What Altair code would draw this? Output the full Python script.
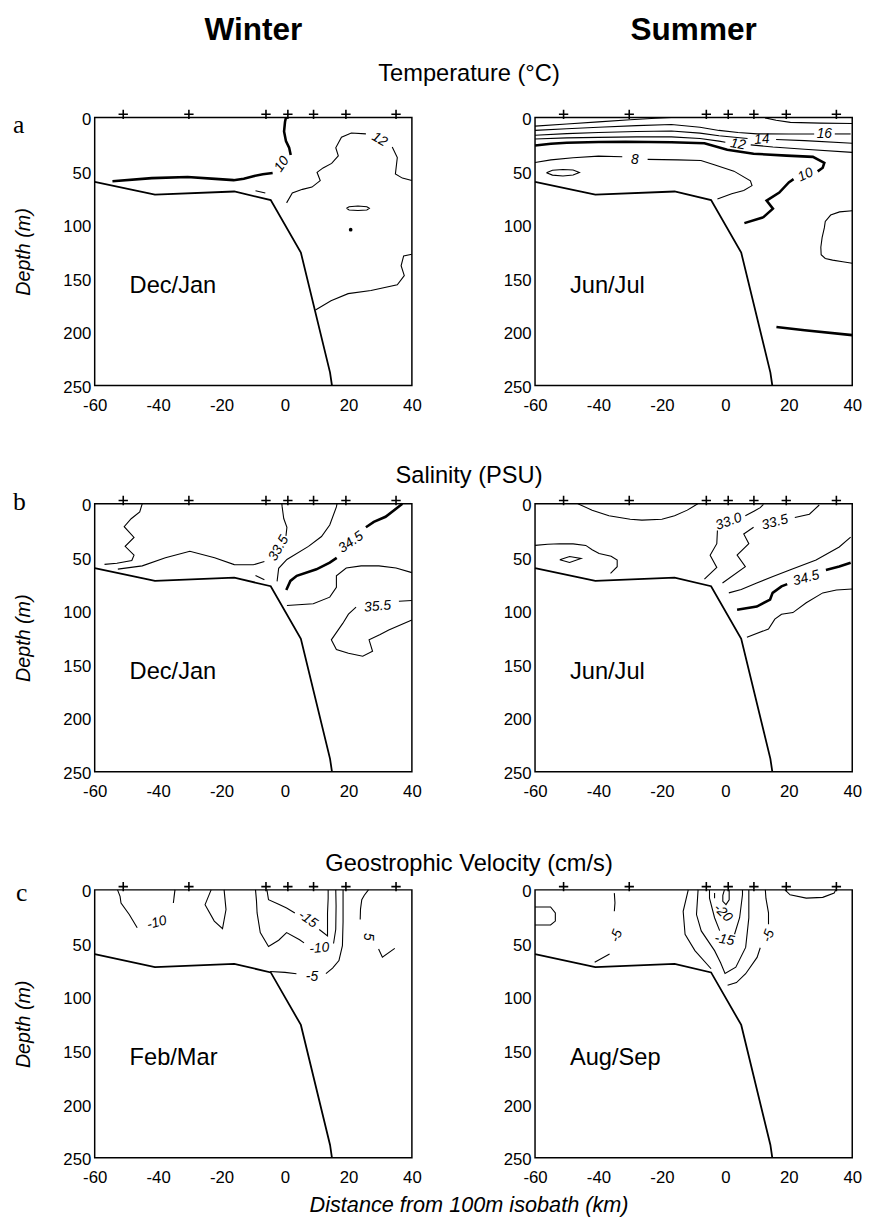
import altair as alt
import pandas as pd

FONT = "Liberation Sans"
SERIF = "Liberation Serif"

# ---------------- shared geometry (km from 100 m isobath, depth in m) ----------------
STATIONS_KM = [-51, -30.3, -6, 0.9, 9, 19.2, 35]
STATION_DEPTH = -3
BATHY_KM = [-60, -41, -16, -4.5, 5, 14.2, 14.8]
BATHY_DEPTH = [60, 72, 69, 77, 126, 238, 250]
X_TICKS = [-60, -40, -20, 0, 20, 40]
Y_TICKS = [0, 50, 100, 150, 200, 250]

# ---------------- a) Temperature, winter (Dec/Jan) ----------------
TW_10_A = [(0.3, 0), (0, 4), (-0.3, 13), (0.3, 22), (1.3, 28), (1.8, 35)]
TW_10_B = [(-3.9, 51.7), (-7, 53), (-10, 54.7), (-13, 57), (-16.2, 58.4), (-22, 57.2),
           (-30.7, 55.4), (-42, 56.5), (-54.4, 59.4)]
TW_12_A = [(0.5, 79.6), (2.3, 70.4), (5.5, 67), (8.5, 64.9), (11.1, 58.8), (10.1, 51.1),
           (12, 47), (14.7, 42.8), (16.8, 35.8), (16, 28.2), (17.8, 18.4), (20.9, 14.4),
           (25.5, 15.2)]
TW_12_B = [(33.8, 27.5), (35.4, 37.3), (34.8, 52.6), (37, 56.5), (40, 58.8)]
TW_DASH = [(-9.3, 68.3), (-6.2, 70.4)]
TW_RING = [(19.4, 84.7), (20.2, 83.2), (23, 82.6), (25.8, 83.2), (26.6, 84.7), (25.8, 86.2),
           (23, 86.8), (20.2, 86.2), (19.4, 84.7)]
TW_DEEP = [(9.6, 179.6), (14.5, 171), (19.9, 164.3), (27.1, 161.3), (35.4, 156.1),
           (37.6, 147.5), (36.6, 138.3), (37.4, 129.1), (40, 127.6)]
TW_DOT = [(20.7, 104.6)]
TW_LABELS = [("10", -1.0, 43.5, 305), ("12", 29.8, 20.5, 30)]

# ---------------- a) Temperature, summer (Jun/Jul) ----------------
TS_TOP_A = [(-60, 8), (-50, 6), (-40, 4), (-30, 2), (-22, 0.6), (-17, 0)]
TS_TOP_B = [(12.5, 0.3), (16, 2.5), (20.5, 4.5), (30, 5.2), (40, 5.5)]
TS_16_A = [(-60, 12), (-50, 10.5), (-40, 9), (-28, 7.5), (-17, 6.5), (-8, 9), (-2, 12),
           (4, 14), (10, 15.2), (20, 15.3), (28, 15.3)]
TS_16_B = [(34.5, 15.3), (39.5, 15.3)]
TS_14_A = [(-60, 16.5), (-50, 15), (-40, 14), (-28, 13), (-17, 12.5), (-8, 14.5),
           (-2, 17), (7, 19.5)]
TS_14_B = [(16, 20.5), (25, 21.5), (40, 24)]
TS_12_A = [(-60, 20), (-50, 19), (-40, 18.5), (-28, 18), (-17, 18), (-8, 19.5),
           (-2, 22), (0, 23)]
TS_12_B = [(8, 25.5), (15, 27.5), (25, 29.5), (40, 32.5)]
TS_10_A = [(-60, 26), (-55, 24.5), (-50, 23.5), (-40, 22.8), (-31.5, 22.5), (-17, 23),
           (-6.6, 23.9), (0.6, 30), (8.9, 33.7), (19.3, 35.5), (27.6, 36.7), (31.2, 42.2),
           (30.7, 46.8), (29.1, 50.2)]
TS_10_B = [(21.5, 57.5), (20, 60.5), (17, 70), (13, 77.5), (15, 85), (12, 93), (6, 98.5)]
TS_8_A = [(-60, 42), (-55, 39.5), (-48, 37.5), (-40, 36), (-32.5, 36.5)]
TS_8_B = [(-24.5, 39), (-15, 39.5), (-7.7, 40), (-3.5, 44), (2.7, 50), (7.9, 59),
          (8.4, 63.5), (5.8, 68), (2, 71), (-2.5, 76)]
TS_RING = [(-56.4, 51.4), (-54.5, 49.2), (-51.2, 48.4), (-48, 48.9), (-46, 51.2),
           (-48, 53.6), (-51.2, 54.5), (-54.5, 53.7), (-56.4, 51.4)]
TS_BLOB = [(40, 87), (36, 88), (33.2, 91), (31.5, 97), (31.2, 103), (30.5, 112),
           (30.1, 121), (30.2, 128), (31.5, 131.5), (33.8, 133), (37, 134.5), (40, 136)]
TS_DEEP = [(16.1, 195.5), (25, 198.5), (40, 203)]
TS_LABELS = [("16", 31.2, 15.3, 0), ("14", 11.5, 20.5, 355), ("12", 4, 25, 10),
             ("8", -28.5, 39.5, 0), ("10", 25.3, 53.5, 335)]

# ---------------- b) Salinity, winter (Dec/Jan) ----------------
SW_LEFT = [(-45, 0), (-45.8, 7.6), (-48.5, 14), (-50.7, 21.4), (-47.6, 31.5), (-50.4, 39.8),
           (-47.6, 48), (-48.3, 52.9), (-53, 55.5), (-56.9, 56.6)]
SW_335_A = [(-52.7, 61), (-45, 58), (-37.7, 50.5), (-30, 44.4), (-22.2, 50.5), (-16, 56.8),
            (-10, 57), (-6.5, 54)]
SW_335_B = [(0.3, 30), (0.6, 22), (-0.4, 13.8), (-0.9, 3), (-1, 0)]
SW_DASH = [(-9.3, 67), (-6.5, 71)]
SW_MID = [(-2.5, 72.5), (-2, 60.3), (0.6, 52), (7.4, 39.8), (11.5, 30.6), (14.1, 19.9),
          (16.2, 3), (16.4, 0)]
SW_THIN2 = [(0.6, 95), (8.9, 93.3), (14.1, 87.2), (16.2, 78), (16.2, 67.3), (19.3, 60),
            (24, 58), (29.6, 58), (35, 60), (40, 64.3)]
SW_355_A = [(35.9, 91), (40, 90.3)]
SW_355_B = [(22.4, 96.4), (20, 103), (18.2, 111.7), (14.6, 127), (16.2, 136), (20, 139.5),
            (24.5, 142.3), (27.6, 137.7), (26.5, 127), (30, 122), (32.7, 117.8), (40, 108.6)]
SW_345_A = [(0.4, 80.5), (1.7, 72), (3.7, 67.3), (9.9, 61.2), (14.1, 55), (16.3, 50.5)]
SW_345_B = [(25.5, 22), (28, 17), (31.7, 12.2), (36.4, 1.5), (37, 0)]
SW_LABELS = [("33.5", -2, 41.5, 300), ("34.5", 20.8, 36, 325), ("35.5", 29.2, 96, 355)]

# ---------------- b) Salinity, summer (Jun/Jul) ----------------
SS_ARC = [(-46.5, 0), (-42, 6), (-36.7, 11.3), (-30, 14.5), (-26.3, 15.3), (-20, 14.5),
          (-16, 11.3), (-12, 6), (-8.7, 0)]
SS_LEFT = [(-60, 38.9), (-56, 37.8), (-52.2, 37.3), (-48, 37.5), (-44, 38.9), (-42, 43),
           (-39.8, 46.5), (-36, 49), (-34.1, 52.6), (-34.1, 58.8), (-36.2, 64.9)]
SS_DIAMOND = [(-52.2, 52.2), (-49.1, 49.2), (-45.5, 51.1), (-49.1, 54.8), (-52.2, 52.2)]
SS_330_A = [(-6.6, 70.4), (-2.7, 59.4), (-4.8, 48), (-2.7, 37.3), (-2.5, 25)]
SS_330_B = [(6.3, 11.3), (9, 7), (11, 3.7), (12, 0.6)]
SS_335_A = [(-0.9, 74), (6.3, 58.8), (3.7, 48), (7.4, 37.3), (5.8, 28.2), (8.9, 22)]
SS_335_B = [(21.9, 12.9), (26.5, 9.8), (29.6, 1.2)]
SS_MID = [(1.1, 83.2), (5, 80), (9.9, 74), (15, 68), (20.3, 61.8), (28.6, 52.6),
          (35.9, 40.4), (39.5, 31.2)]
SS_345_A = [(3.7, 99), (9.9, 96), (14.1, 89.4), (14.9, 83.2), (17.7, 77.1), (19.5, 75)]
SS_345_B = [(31.7, 61.8), (35.9, 58.5), (39.5, 55)]
SS_LOW = [(6.8, 124.5), (13.6, 116.9), (15.6, 107.7), (17.7, 103.1), (21.3, 101.6),
          (25.5, 92.4), (30.7, 83.2), (35, 80.5), (40, 79.6)]
SS_LABELS = [("33.0", 1.1, 16.8, 340), ("33.5", 15.6, 17.4, 345), ("34.5", 25.5, 69.5, 345)]

# ---------------- c) Geostrophic velocity, winter (Feb/Mar) ----------------
VW_10_A = [(-52.8, 0), (-52, 6), (-51.7, 12.3), (-49.1, 23), (-46.6, 35.3)]
VW_SHORT = [(-34.7, 0), (-35.2, 12.3)]
VW_V = [(-23.3, 0), (-25.2, 13.8), (-22.3, 29.1), (-19.7, 36.2), (-18.6, 18.4), (-19.2, 0)]
VW_15_A = [(-5.7, 0), (-5.2, 9.2), (-2, 13.5), (0.5, 16.9), (3.1, 21.5)]
VW_15_B = [(10.8, 37), (13.4, 42.9), (13.4, 21.5), (13.6, 8), (13.6, 0)]
VW_10_B = [(-9.3, 0), (-9, 10), (-8.8, 21.5), (-7.8, 39.9), (-5.2, 52.8), (-2, 47),
           (0.5, 39.9), (4.6, 46.6), (6, 49.5)]
VW_10_C = [(15.3, 50), (16, 36.8), (16.1, 15), (16, 0)]
VW_5_A = [(-4.7, 76.1), (0, 77), (3.6, 78.2)]
VW_5_B = [(12.9, 78.2), (15, 73), (17, 66), (18.1, 52), (18.3, 30), (18.3, 0)]
VW_P5 = [(26.3, 0), (25, 5), (24.2, 9.2), (23.8, 18), (23.7, 27.6)]
VW_L = [(29.5, 55.2), (30.7, 62.9), (34.6, 54.6)]
VW_LABELS = [("-10", -40.4, 30.7, 345), ("-15", 7.2, 27.6, 35), ("-10", 10.8, 54.6, 355),
             ("-5", 8.5, 81.3, 0), ("5", 26.3, 43.9, 90)]

# ---------------- c) Geostrophic velocity, summer (Aug/Sep) ----------------
VS_BOX = [(-60, 16), (-55.1, 16), (-53.6, 21.5), (-53.6, 29.1), (-55.1, 32.8), (-60, 32.8)]
VS_SHORT = [(-35, 3), (-34.8, 12), (-35, 20)]
VS_5L = [(-41.2, 67.5), (-36.5, 59.8)]
VS_ARC = [(18.8, 0), (20.4, 4.6), (25.5, 7.7), (30.7, 7), (34.3, 3), (34.8, 0)]
VS_U1_A = [(-11.7, 0), (-13.3, 20), (-12.7, 41.4), (-9.6, 56.7), (-4.5, 73.6)]
VS_U1_B = [(0.7, 89), (3.5, 86.5), (6.4, 78.2), (10, 63), (11, 54)]
VS_U1_C = [(13.6, 32), (13.6, 21.5), (12.8, 8), (12.6, 0)]
VS_U2 = [(-8.6, 0), (-9.1, 23), (-7.6, 38.3), (-3.4, 56.7), (-1.5, 68), (-0.1, 78),
         (3.3, 72.1), (6.4, 53.7), (7.4, 26.1), (7.4, 0)]
VS_U3_A = [(-5, 0), (-5, 7.7), (-3.4, 26), (-1.8, 38)]
VS_U3_B = [(2.9, 41.4), (4.5, 26), (5.4, 4.6), (5.4, 0)]
VS_20_TICK = [(-3.4, 3), (-3.4, 7.7)]
VS_20_LOOP = [(-0.3, 0), (-0.8, 5), (-0.8, 10.7), (0.2, 13.8), (1.2, 9.2), (1.2, 0)]
VS_LABELS = [("-20", -0.8, 21.5, 45), ("-15", -0.3, 46.6, 10), ("-5", 13.6, 42.9, 290),
             ("-5", -34.3, 42.9, 290)]

SEASON_LABEL_POS = (-49, 157)

# ---------------- builders ----------------
PANEL_W, PANEL_H = 322, 272
XS = alt.Scale(domain=[-60, 40], nice=False, zero=False)
YS = alt.Scale(domain=[0, 250], reverse=True, nice=False, zero=False)


def axes(left):
    xa = alt.Axis(values=X_TICKS, title=None, grid=False, ticks=False, domain=False,
                  labelFont=FONT, labelFontSize=17, labelColor="black", labelPadding=12,
                  labelFlush=False, labelExpr="'' + datum.value")
    ya = alt.Axis(values=Y_TICKS, title="Depth (m)" if left else None, grid=False,
                  ticks=False, domain=False, labelFont=FONT, labelFontSize=17,
                  labelColor="black", labelPadding=4, labelOffset=2, titleFont=FONT,
                  titleFontSize=20, titleFontStyle="italic", titleFontWeight="normal",
                  titleColor="black", titlePadding=30, labelFlush=False)
    return xa, ya


def seg_df(segs):
    rows = []
    for name, pts in segs:
        for i, (k, d) in enumerate(pts):
            rows.append({"seg": name, "i": i, "km": k, "depth": d})
    return pd.DataFrame(rows)


def lines(segs, width, left):
    xa, ya = axes(left)
    return alt.Chart(seg_df(segs)).mark_line(color="black", strokeWidth=width).encode(
        x=alt.X("km:Q", scale=XS, axis=xa),
        y=alt.Y("depth:Q", scale=YS, axis=ya),
        detail="seg:N",
        order="i:Q",
    )


def contour_labels(labels, left):
    xa, ya = axes(left)
    df = pd.DataFrame(labels, columns=["t", "km", "depth", "ang"])
    return alt.Chart(df).mark_text(font=FONT, fontSize=14, fontStyle="italic",
                                   color="black").encode(
        x=alt.X("km:Q", scale=XS, axis=xa),
        y=alt.Y("depth:Q", scale=YS, axis=ya),
        text="t:N",
        angle=alt.Angle("ang:Q", scale=None),
    )


def stations(left):
    xa, ya = axes(left)
    df = pd.DataFrame({"km": STATIONS_KM, "depth": [STATION_DEPTH] * len(STATIONS_KM)})
    return alt.Chart(df).mark_point(shape="M-1,0H1M0,-1V1", size=90, color="black",
                                    strokeWidth=1.6, filled=False, opacity=1).encode(
        x=alt.X("km:Q", scale=XS, axis=xa),
        y=alt.Y("depth:Q", scale=YS, axis=ya),
    )


def season(text, left):
    xa, ya = axes(left)
    df = pd.DataFrame({"t": [text], "km": [SEASON_LABEL_POS[0]], "depth": [SEASON_LABEL_POS[1]]})
    return alt.Chart(df).mark_text(font=FONT, fontSize=24, align="left", baseline="middle",
                                   color="black").encode(
        x=alt.X("km:Q", scale=XS, axis=xa),
        y=alt.Y("depth:Q", scale=YS, axis=ya),
        text="t:N",
    )


def free_text(text, px, py, size, font=FONT, weight="normal", style="normal",
              align="center", baseline="middle"):
    return alt.Chart(pd.DataFrame({"t": [text]})).mark_text(
        font=font, fontSize=size, fontWeight=weight, fontStyle=style, align=align,
        baseline=baseline, color="black").encode(
        text="t:N", x=alt.value(px), y=alt.value(py))


def panel(thin, thick, labels, season_text, left, extras=(), dots=None):
    bathy = list(zip(BATHY_KM, BATHY_DEPTH))
    layers = [
        lines([("bathy", bathy)], 1.8, left),
        lines(thin, 1.1, left),
    ]
    if thick:
        layers.append(lines(thick, 2.6, left))
    if dots:
        xa, ya = axes(left)
        layers.append(alt.Chart(pd.DataFrame(dots, columns=["km", "depth"])).mark_circle(
            size=14, color="black", opacity=1).encode(
            x=alt.X("km:Q", scale=XS, axis=xa), y=alt.Y("depth:Q", scale=YS, axis=ya)))
    layers += [contour_labels(labels, left), stations(left), season(season_text, left)]
    layers += list(extras)
    return alt.layer(*layers).properties(width=PANEL_W, height=PANEL_H)


# ---------------- panels ----------------
a_left = panel(
    [("12a", TW_12_A), ("12b", TW_12_B), ("dash", TW_DASH), ("ring", TW_RING), ("deep", TW_DEEP)],
    [("10a", TW_10_A), ("10b", TW_10_B)],
    TW_LABELS, "Dec/Jan", True,
    extras=[free_text("Winter", 161, -89, 32, weight="bold"),
            free_text("Temperature (°C)", 380, -44, 24),
            free_text("a", -83, 16, 26, font=SERIF, align="left", baseline="alphabetic")],
    dots=TW_DOT)

a_right = panel(
    [("topa", TS_TOP_A), ("topb", TS_TOP_B), ("16a", TS_16_A), ("16b", TS_16_B),
     ("14a", TS_14_A), ("14b", TS_14_B), ("12a", TS_12_A), ("12b", TS_12_B),
     ("8a", TS_8_A), ("8b", TS_8_B), ("ring", TS_RING), ("blob", TS_BLOB)],
    [("10a", TS_10_A), ("10b", TS_10_B), ("deep", TS_DEEP)],
    TS_LABELS, "Jun/Jul", False,
    extras=[free_text("Summer", 161, -89, 32, weight="bold")])

b_left = panel(
    [("left", SW_LEFT), ("335a", SW_335_A), ("335b", SW_335_B), ("dash", SW_DASH),
     ("mid", SW_MID), ("thin2", SW_THIN2), ("355a", SW_355_A), ("355b", SW_355_B)],
    [("345a", SW_345_A), ("345b", SW_345_B)],
    SW_LABELS, "Dec/Jan", True,
    extras=[free_text("Salinity (PSU)", 380, -28, 24),
            free_text("b", -83, 6, 26, font=SERIF, align="left", baseline="alphabetic")])

b_right = panel(
    [("arc", SS_ARC), ("left", SS_LEFT), ("dia", SS_DIAMOND), ("330a", SS_330_A),
     ("330b", SS_330_B), ("335a", SS_335_A), ("335b", SS_335_B), ("mid", SS_MID),
     ("low", SS_LOW)],
    [("345a", SS_345_A), ("345b", SS_345_B)],
    SS_LABELS, "Jun/Jul", False)

c_left = panel(
    [("10a", VW_10_A), ("short", VW_SHORT), ("v", VW_V), ("15a", VW_15_A), ("15b", VW_15_B),
     ("10b", VW_10_B), ("10c", VW_10_C), ("5a", VW_5_A), ("5b", VW_5_B), ("p5", VW_P5),
     ("L", VW_L)],
    [],
    VW_LABELS, "Feb/Mar", True,
    extras=[free_text("Geostrophic Velocity (cm/s)", 380, -26, 24),
            free_text("c", -80, 11, 26, font=SERIF, align="left", baseline="alphabetic"),
            free_text("Distance from 100m isobath (km)", 380, 320, 22, style="italic")])

c_right = panel(
    [("box", VS_BOX), ("short", VS_SHORT), ("5l", VS_5L), ("arc", VS_ARC), ("u1a", VS_U1_A),
     ("u1b", VS_U1_B), ("u1c", VS_U1_C), ("u2", VS_U2), ("u3a", VS_U3_A), ("u3b", VS_U3_B),
     ("20t", VS_20_TICK), ("20l", VS_20_LOOP)],
    [],
    VS_LABELS, "Aug/Sep", False)

chart = alt.concat(
    a_left, a_right, b_left, b_right, c_left, c_right,
    columns=2, spacing=alt.RowColnumber(row=120, column=125), bounds="flush",
).properties(
    padding={"left": 4, "top": -4, "right": 5, "bottom": 0},
    background="white",
).configure_view(stroke="black", strokeWidth=1.5)

chart.save("out.html", embed_options={"renderer": "svg", "actions": False})
